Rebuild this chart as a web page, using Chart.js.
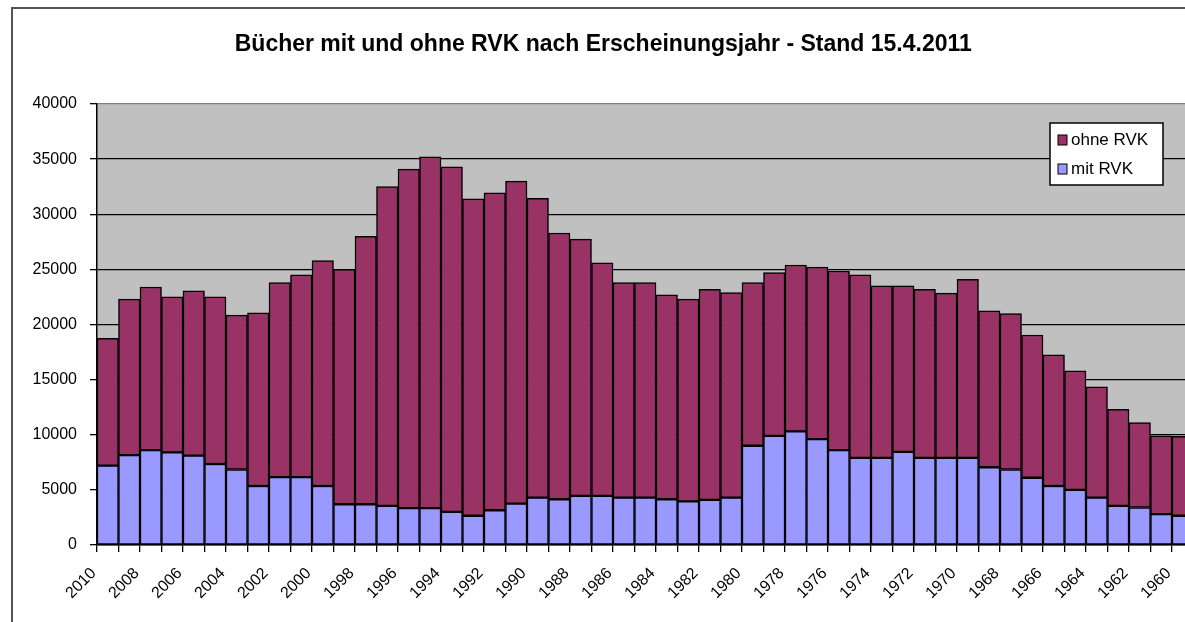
<!DOCTYPE html>
<html><head><meta charset="utf-8">
<script src="https://cdn.jsdelivr.net/npm/chart.js@4.4.0/dist/chart.umd.min.js"></script>
<style>
html,body{margin:0;padding:0;background:#fff;overflow:hidden;width:1185px;height:622px;}
#frame{position:absolute;left:11px;top:7px;width:1200px;height:640px;border:2px solid #555;background:#fff;}
#c{display:block;}
</style></head><body>
<div id="frame"><canvas id="c" width="1200" height="640"></canvas></div>
<script>
const titleText = 'Bücher mit und ohne RVK nach Erscheinungsjahr - Stand 15.4.2011';
const years = ['2010','2009','2008','2007','2006','2005','2004','2003','2002','2001',
  '2000','1999','1998','1997','1996','1995','1994','1993','1992','1991',
  '1990','1989','1988','1987','1986','1985','1984','1983','1982','1981',
  '1980','1979','1978','1977','1976','1975','1974','1973','1972','1971',
  '1970','1969','1968','1967','1966','1965','1964','1963','1962','1961','1960'];
const mitRVK = [7200,8150,8600,8400,8100,7350,6850,5350,6150,6150,
  5350,3700,3700,3550,3350,3350,3000,2650,3150,3750,
  4300,4150,4450,4450,4300,4300,4150,3950,4100,4300,
  9000,9900,10300,9600,8600,7900,7900,8450,7900,7900,
  7900,7050,6850,6100,5350,5000,4300,3550,3400,2800,2650];
const ohneRVK = [11550,14150,14800,14100,14950,15150,14000,15700,17650,18350,
  20450,21300,24300,28950,30750,31850,31300,28750,28800,29250,
  27150,24150,23300,21150,19500,19500,18550,18350,19100,18600,
  14800,14800,15100,15600,16250,16600,15600,15050,15300,14950,
  16200,14200,14150,12950,11900,10800,10050,8750,7700,7100,7200];
const yTickValues = [0,5000,10000,15000,20000,25000,30000,35000,40000];
const seriesNames = ['mit RVK','ohne RVK'];
const seriesColors = ['#9999FF','#993366'];

const plotBg = {
  id:'plotBg',
  beforeDraw(chart){
    const a = chart.chartArea, ctx = chart.ctx;
    ctx.save(); ctx.fillStyle = '#C0C0C0';
    ctx.fillRect(a.left, a.top, a.right - a.left, a.bottom - a.top);
    ctx.restore();
  }
};
const boxLegend = {
  id:'boxLegend',
  afterDraw(chart){
    const ctx = chart.ctx, a = chart.chartArea;
    const x = 1037, y = a.top + 19, w = 113, h = 62;
    ctx.save();
    ctx.fillStyle = '#fff'; ctx.fillRect(x, y, w, h);
    ctx.strokeStyle = '#000'; ctx.lineWidth = 1.5; ctx.strokeRect(x, y, w, h);
    ctx.font = '17px "Liberation Sans", Arial, sans-serif';
    ctx.textBaseline = 'middle'; ctx.textAlign = 'left';
    const order = [1, 0];
    order.forEach((di, i) => {
      const ds = chart.data.datasets[di];
      const cy = y + 17 + i * 29;
      ctx.fillStyle = ds.backgroundColor;
      ctx.fillRect(x + 8, cy - 5, 9, 10);
      ctx.strokeStyle = '#000'; ctx.lineWidth = 1;
      ctx.strokeRect(x + 8, cy - 5, 9, 10);
      ctx.fillStyle = '#000';
      ctx.fillText(ds.label, x + 21, cy);
    });
    ctx.restore();
  }
};

new Chart(document.getElementById('c'), {
  type:'bar',
  data:{
    labels: years,
    datasets:[
      {label: seriesNames[0], data: mitRVK, backgroundColor: seriesColors[0], borderColor:'#000', borderWidth:1.5, borderSkipped:false},
      {label: seriesNames[1], data: ohneRVK, backgroundColor: seriesColors[1], borderColor:'#000', borderWidth:1.5, borderSkipped:false}
    ]
  },
  options:{
    responsive:false, animation:false,
    layout:{padding:{left:0, right:19.5, top:0, bottom:0}},
    datasets:{bar:{barPercentage:1, categoryPercentage:1}},
    plugins:{
      legend:{display:false},
      tooltip:{enabled:false},
      title:{display:true, text:titleText, color:'#000',
        font:{family:'"Liberation Sans", Arial, sans-serif', size:23, weight:'bold'},
        padding:{top:22.2, bottom:45.2}}
    },
    scales:{
      x:{stacked:true,
        afterFit(s){ s.height = 104; },
        grid:{drawOnChartArea:false, drawTicks:true, tickLength:7, color:'#000', lineWidth:1.3, offset:true},
        border:{color:'#000', width:1.5},
        ticks:{autoSkip:false, maxRotation:45, minRotation:45, color:'#000', labelOffset:-14, padding:12,
          font:{family:'"Liberation Sans", Arial, sans-serif', size:16},
          callback:(v, i) => i % 2 === 0 ? years[i] : ''}
      },
      y:{stacked:true, min:0, max:40000,
        afterFit(s){ s.width = 84; },
        afterBuildTicks(s){ s.ticks = yTickValues.map(v => ({value:v})); },
        grid:{color:(c) => c.tick && c.tick.value === 40000 ? '#808080' : '#000', tickColor:'#000', lineWidth:1.3, tickLength:7},
        border:{color:'#000', width:1.5},
        ticks:{color:'#000', padding:13, font:{family:'"Liberation Sans", Arial, sans-serif', size:16},
          callback:(v) => String(v)}
      }
    }
  },
  plugins:[plotBg, boxLegend]
});
</script>
</body></html>
